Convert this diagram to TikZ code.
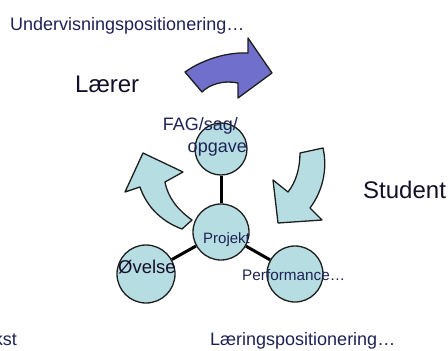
\documentclass[tikz,border=0pt]{standalone}
\usepackage{fontspec}
\setmainfont{Liberation Sans}
\definecolor{lightcyan}{RGB}{182,222,226}
\definecolor{arrowpurple}{RGB}{112,112,204}
\definecolor{outl}{RGB}{30,30,30}
\definecolor{smalltxt}{RGB}{30,35,85}
\definecolor{bigtxt}{RGB}{20,15,40}
\begin{document}
\begin{tikzpicture}[x=1pt,y=-1pt,
  bubble/.style={circle,draw=outl,line width=1.3pt,fill=lightcyan,inner sep=0pt},
  link/.style={line width=3pt,black},
  bigarrow/.style={draw=outl,line width=1.3pt,line join=round},
  lbl/.style={inner sep=0pt,text=smalltxt},
  biglbl/.style={inner sep=0pt,text=bigtxt,font=\fontsize{24}{26}\selectfont}
]
\useasboundingbox (0,0) rectangle (448,351);
\fill[white] (0,0) rectangle (448,351);

% curved arrows
\path[bigarrow,fill=arrowpurple]
  (185,72) .. controls (202,60) and (226,52) .. (248,53) -- (248,38) -- (272,73)
  -- (238,98) -- (238,83) .. controls (224,80) and (210,84) .. (202,92) -- cycle;
\path[bigarrow,fill=lightcyan]
  (125,192) -- (140,187) .. controls (146,205) and (160,221) .. (182,229)
  -- (192,220) .. controls (178,210) and (168,198) .. (165,182)
  -- (183,172) -- (143,153) -- cycle;
\path[bigarrow,fill=lightcyan]
  (300,153) -- (323,148) .. controls (328,170) and (322,192) .. (310,208)
  -- (322,220) -- (278,223) -- (273,180) -- (288,192)
  .. controls (296,182) and (300,168) .. (300,153) -- cycle;

% circles
\node[bubble,minimum size=52pt] (fag) at (221,149) {};
\node[bubble,minimum size=56pt] (proj) at (221,232) {};
\node[bubble,minimum size=58pt] (ovel) at (146,274) {};
\node[bubble,minimum size=56pt] (perf) at (295,274) {};

% connectors
\draw[link] (proj) -- (fag);
\draw[link] (proj) -- (ovel);
\draw[link] (proj) -- (perf);

% texts
\node[lbl,anchor=base west,font=\fontsize{18}{20}\selectfont] (under) at (10,30) {Undervisningspositionering…};
\node[biglbl,anchor=base west] (laerer) at (75,92) {Lærer};
\node[biglbl,anchor=base west] (student) at (363,198) {Student};
\node[lbl,anchor=base east,font=\fontsize{18}{20}\selectfont] (fagt1) at (238,130) {FAG/sag/};
\node[lbl,anchor=base east,font=\fontsize{18}{20}\selectfont] (fagt2) at (247,152) {opgave};
\node[lbl,anchor=base west,font=\fontsize{15}{17}\selectfont] (projt) at (203,243) {Projekt};
\node[lbl,anchor=base west,font=\fontsize{18.5}{20}\selectfont,text=bigtxt] (ovelt) at (118,273) {Øvelse};
\node[lbl,anchor=base west,font=\fontsize{15.3}{17}\selectfont] (perft) at (242,280) {Performance…};
\node[lbl,anchor=base west,font=\fontsize{18}{20}\selectfont] (laering) at (210,345) {Læringspositionering…};
\node[lbl,anchor=base east,font=\fontsize{18}{20}\selectfont] (kst) at (17,345) {kst};
\end{tikzpicture}
\end{document}
